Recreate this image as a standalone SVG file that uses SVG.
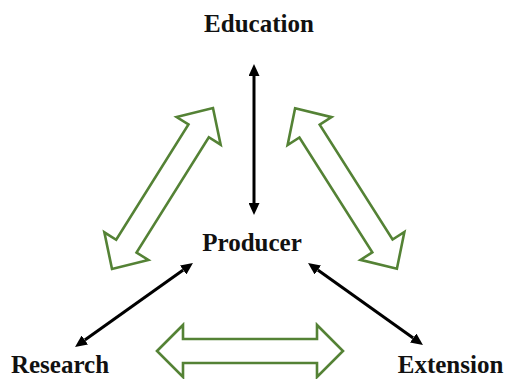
<svg xmlns="http://www.w3.org/2000/svg" width="507" height="379" viewBox="0 0 507 379">
  <style>
    .label { font-family: "Liberation Serif", "Times New Roman", serif; font-weight: bold; font-size: 25px; fill: #111; text-anchor: middle; }
    .link { stroke: #000; stroke-width: 3; fill: none; }
    .flow { fill: #fff; stroke: #548235; stroke-width: 2.6; stroke-linejoin: miter; }
  </style>
  <defs>
    <marker id="head" viewBox="0 0 12 11" refX="0" refY="5.5" markerWidth="12" markerHeight="11" markerUnits="userSpaceOnUse" orient="auto-start-reverse">
      <path d="M0,0 L12,5.5 L0,11 z" fill="#000"/>
    </marker>
    <!-- hollow double-headed block arrow, centred on the origin along x -->
    <path id="blockArrow" d="M-95,0 L-68,-26 L-68,-12 L68,-12 L68,-26 L95,0 L68,26 L68,12 L-68,12 L-68,26 Z"/>
  </defs>

  <g id="connectors">
    <line class="link" x1="254" y1="76" x2="254" y2="203" marker-start="url(#head)" marker-end="url(#head)"/>
    <line class="link" x1="84.8" y1="340" x2="183.2" y2="270" marker-start="url(#head)" marker-end="url(#head)"/>
    <line class="link" x1="317.8" y1="270" x2="413.2" y2="338" marker-start="url(#head)" marker-end="url(#head)"/>
  </g>

  <g id="flows">
    <use href="#blockArrow" class="flow" transform="translate(162.5,188.5) rotate(-57.9)"/>
    <use href="#blockArrow" class="flow" transform="translate(346,188.5) rotate(57.6)"/>
    <path class="flow" transform="translate(250,351)" d="M-93,0 L-67,-26 L-67,-12 L67,-12 L67,-26 L93,0 L67,26 L67,12 L-67,12 L-67,26 Z"/>
  </g>

  <g id="education"><text class="label" x="259" y="32">Education</text></g>
  <g id="producer"><text class="label" x="252" y="251">Producer</text></g>
  <g id="research"><text class="label" x="60" y="373">Research</text></g>
  <g id="extension"><text class="label" x="450.5" y="373">Extension</text></g>
</svg>
